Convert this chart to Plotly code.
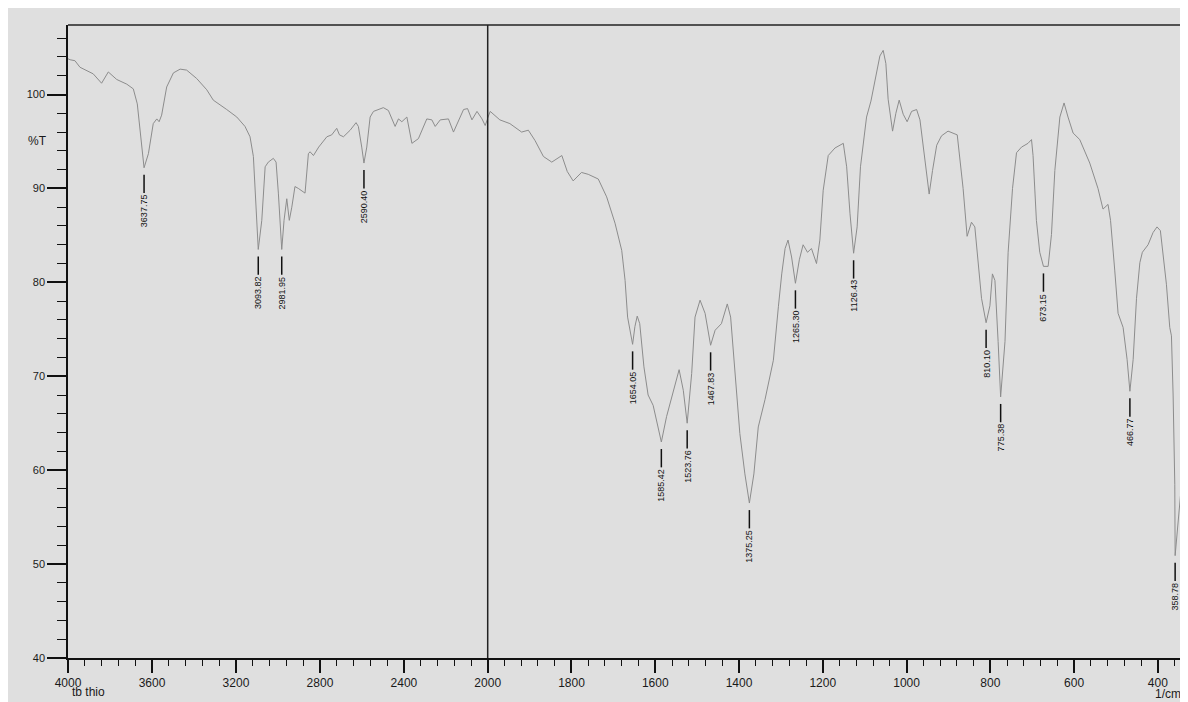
import numpy as np
import plotly.graph_objects as go

# ---------------- data ----------------
wavenumber = [
    4000, 3990, 3967, 3943, 3880, 3840, 3808, 3768, 3720, 3689, 3670, 3649, 3637.75, 3617, 3594,
    3577, 3566, 3554, 3530, 3498, 3466, 3435, 3387, 3339, 3308, 3244, 3196, 3157, 3133, 3117,
    3109, 3098, 3093.82, 3077, 3061, 3046, 3022, 3009, 2998, 2981.95, 2971, 2958, 2946, 2934,
    2919, 2903, 2871, 2855, 2847, 2831, 2806, 2767, 2744, 2720, 2707, 2688, 2656, 2628, 2617,
    2601, 2590.40, 2577, 2561, 2545, 2498, 2474, 2442, 2426, 2410, 2386, 2362, 2331, 2291, 2267,
    2251, 2227, 2188, 2164, 2116, 2097, 2076, 2052, 2028, 2013, 2000,
    1994, 1971, 1947, 1919, 1903, 1887, 1867, 1847, 1823, 1810, 1796, 1776, 1760, 1736, 1716,
    1696, 1680, 1672, 1666, 1654.05, 1648.5, 1643, 1637, 1627, 1617, 1605, 1593, 1585.42, 1573,
    1557, 1543, 1533, 1523.76, 1513, 1505, 1493, 1481, 1467.83, 1457, 1442, 1428, 1420, 1410,
    1398, 1386, 1375.25, 1364.5, 1354, 1338, 1318, 1306, 1298, 1290, 1283, 1274.5, 1265.30,
    1256, 1247, 1236.5, 1227, 1215, 1207, 1199, 1187, 1171, 1151, 1143, 1135, 1126.43, 1118,
    1110, 1095.5, 1085, 1075.6, 1063.7, 1055.8, 1049.4, 1044, 1033.4, 1025.5, 1017.6, 1008,
    998.6, 988, 976, 968, 960, 952, 946, 938, 928, 916.5, 901, 879, 873, 865, 855.4, 845, 837,
    829, 821, 810.10, 801, 795, 789, 781.4, 775.38, 765, 757.5, 747, 737.5, 725.5, 710, 701.7,
    698, 690, 682, 673.15, 662, 654, 646, 634, 624, 614.5, 602.4, 586.5, 562.6, 543, 531, 519,
    513, 503, 495, 483, 473.5, 466.77, 459, 451, 443, 437, 423.4, 411.5, 402, 394, 387.6,
    379.6, 371.6, 367.6, 363.6, 359.6, 358.78, 351.8, 346, 341,
]
transmittance = [
    103.8, 103.7, 103.6, 102.9, 102.2, 101.2, 102.4, 101.6, 101.1, 100.6, 99.0, 94.4, 92.2, 93.7, 96.9,
    97.4, 97.1, 97.8, 100.8, 102.3, 102.7, 102.6, 101.7, 100.5, 99.4, 98.4, 97.6, 96.6, 95.5, 93.4,
    90.2, 85.9, 83.5, 86.6, 92.3, 92.8, 93.2, 92.8, 89.5, 83.5, 86.6, 88.9, 86.6, 88.0,
    90.2, 90.0, 89.5, 93.7, 93.9, 93.5, 94.4, 95.5, 95.7, 96.4, 95.7, 95.5, 96.2, 97.0, 96.6,
    94.4, 92.7, 94.4, 97.6, 98.2, 98.6, 98.3, 96.6, 97.4, 97.1, 97.6, 94.8, 95.3, 97.4, 97.3,
    96.6, 97.3, 97.4, 96.0, 98.4, 98.5, 97.3, 98.2, 97.4, 96.7, 97.5,
    98.2, 97.3, 96.9, 96.0, 96.2, 95.1, 93.4, 92.8, 93.5, 91.8, 90.8, 91.7, 91.5, 91.0, 89.1,
    86.3, 83.4, 80.2, 76.3, 73.4, 75.3, 76.4, 75.6, 71.0, 68.0, 66.9, 64.4, 63.0, 65.7,
    68.5, 70.7, 68.5, 65.0, 70.3, 76.3, 78.1, 76.7, 73.3, 74.9, 75.6, 77.7, 76.3, 70.3,
    63.9, 59.6, 56.5, 59.6, 64.6, 67.5, 71.7, 77.4, 80.9, 83.6, 84.5, 82.7, 79.9,
    82.4, 84.0, 83.2, 83.6, 82.0, 84.5, 89.8, 93.5, 94.3, 94.8, 92.3, 87.3, 83.1, 85.9,
    92.3, 97.6, 99.3, 101.4, 104.1, 104.7, 103.3, 99.5, 96.1, 98.0, 99.4, 97.9,
    97.1, 98.2, 98.4, 97.3, 94.2, 91.2, 89.4, 91.9, 94.6, 95.6, 96.1, 95.7, 93.5, 90.0, 84.9, 86.4, 85.9,
    82.1, 78.3, 75.7, 77.5, 80.9, 80.2, 73.7, 67.8, 73.7, 83.2, 90.0, 93.8, 94.4, 94.8, 95.2,
    93.5, 86.6, 83.2, 81.7, 81.7, 85.1, 91.9, 97.6, 99.1, 97.6, 95.9, 95.2, 92.7, 90.0, 87.8, 88.3,
    86.6, 81.3, 76.7, 75.2, 71.8, 68.4, 71.8, 78.3, 82.1, 83.2, 84.0, 85.3, 85.9, 85.5, 83.2,
    79.8, 75.2, 74.3, 68.0, 58.5, 50.9, 54.7, 57.3, 57.6,
]

peak_wavenumber = [3637.75, 3093.82, 2981.95, 2590.40, 1654.05, 1585.42, 1523.76, 1467.83,
                   1375.25, 1265.30, 1126.43, 810.10, 775.38, 673.15, 466.77, 358.78]
peak_transmittance = [92.2, 83.5, 83.5, 92.7, 73.4, 63.0, 65.0, 73.3,
                      56.5, 79.9, 83.1, 75.7, 67.8, 81.7, 68.4, 50.9]
peak_labels = ["3637.75", "3093.82", "2981.95", "2590.40", "1654.05", "1585.42", "1523.76",
               "1467.83", "1375.25", "1265.30", "1126.43", "810.10", "775.38", "673.15",
               "466.77", "358.78"]

y_label = "%T"
x_unit_label = "1/cm"
sample_label = "tb thio"

# ---------------- layout geometry ----------------
# page body has an 8px margin; figure is drawn from (8, 8)
OFF = 8
W, H = 1180, 694
ML, MT = 68 - OFF, 25 - OFF
MR = W - (1183 - OFF)
MB = H - (658 - OFF)
PW, PH = W - ML - MR, H - MT - MB
split = 419.7 / PW

FONT = "Liberation Sans, Arial, Helvetica, sans-serif"
BG = "#dfdfdf"
AX = "#111111"
TXT = "#1a1a1a"

wn = np.array(wavenumber)
tr = np.array(transmittance)
left = wn >= 2000
right = wn <= 2000

fig = go.Figure()
fig.add_trace(go.Scatter(x=wn[left], y=tr[left], mode="lines", xaxis="x", yaxis="y",
                         line=dict(color="#8c8c8c", width=1), hoverinfo="skip"))
fig.add_trace(go.Scatter(x=wn[right], y=tr[right], mode="lines", xaxis="x2", yaxis="y",
                         line=dict(color="#8c8c8c", width=1), hoverinfo="skip"))

common_x = dict(showgrid=False, zeroline=False, showline=True, linecolor=AX, linewidth=1.5,
                ticks="outside", ticklen=13, tickwidth=1.5, tickcolor=AX,
                tickfont=dict(family=FONT, size=12, color=TXT), anchor="y")

fig.update_layout(
    template="none",
    width=W, height=H,
    margin=dict(l=ML, r=MR, t=MT, b=MB, pad=0),
    paper_bgcolor=BG, plot_bgcolor=BG,
    showlegend=False,
    font=dict(family=FONT, size=12, color=TXT),
    xaxis=dict(domain=[0, split], range=[4000, 2001], tickmode="linear", tick0=0, dtick=400,
               minor=dict(ticks="outside", tickmode="linear", tick0=0, dtick=80, ticklen=6,
                          tickwidth=1.2, tickcolor=AX, showgrid=False),
               **common_x),
    xaxis2=dict(domain=[split, 1], range=[2000, 340], tickmode="linear", tick0=0, dtick=200,
                minor=dict(ticks="outside", tickmode="linear", tick0=0, dtick=40, ticklen=6,
                           tickwidth=1.2, tickcolor=AX, showgrid=False),
                **common_x),
    yaxis=dict(range=[40, 107.4], tickmode="linear", tick0=0, dtick=10, showgrid=False,
               zeroline=False, showline=True, linecolor=AX, linewidth=1.5,
               ticks="outside", ticklen=19, tickwidth=1.5, tickcolor=AX, anchor="x",
               tickfont=dict(family=FONT, size=11, color=TXT),
               minor=dict(ticks="outside", tickmode="linear", tick0=0, dtick=2, ticklen=9,
                          tickwidth=1.2, tickcolor=AX, showgrid=False)),
)

shapes = [
    dict(type="line", xref="paper", yref="paper", x0=0, x1=1, y0=1, y1=1,
         line=dict(color="#222", width=1.5)),
    dict(type="line", xref="paper", yref="paper", x0=1, x1=1, y0=0, y1=1,
         line=dict(color="#333", width=1.5)),
    dict(type="line", xref="paper", yref="paper", x0=split, x1=split, y0=0, y1=1,
         line=dict(color="#222", width=1.5)),
]

annotations = [
    dict(text=y_label, xref="paper", yref="y", x=(37 - 68) / PW, y=95, showarrow=False,
         xanchor="center", yanchor="middle", font=dict(family=FONT, size=12, color=TXT)),
    dict(text=sample_label, xref="paper", yref="paper", x=(70 - 68) / PW, y=-(692 - 658) / PH,
         showarrow=False, xanchor="left", yanchor="middle",
         font=dict(family=FONT, size=12, color=TXT)),
    dict(text=x_unit_label, xref="paper", yref="paper", x=1.0, y=-(694 - 658) / PH,
         showarrow=False, xanchor="right", yanchor="middle",
         font=dict(family=FONT, size=12, color=TXT)),
]

for w, t, lab in zip(peak_wavenumber, peak_transmittance, peak_labels):
    xr = "x" if w >= 2000 else "x2"
    shapes.append(dict(type="line", xref=xr, yref="y", x0=w, x1=w, y0=t - 0.75, y1=t - 2.7,
                       line=dict(color="#111", width=1.5)))
    annotations.append(dict(text=lab, xref=xr, yref="y", x=w, y=t - 2.75, showarrow=False,
                            textangle=-90, xanchor="center", yanchor="top",
                            font=dict(family=FONT, size=9, color="#111"), borderpad=0))

fig.update_layout(shapes=shapes, annotations=annotations)

fig.write_html("out.html")
